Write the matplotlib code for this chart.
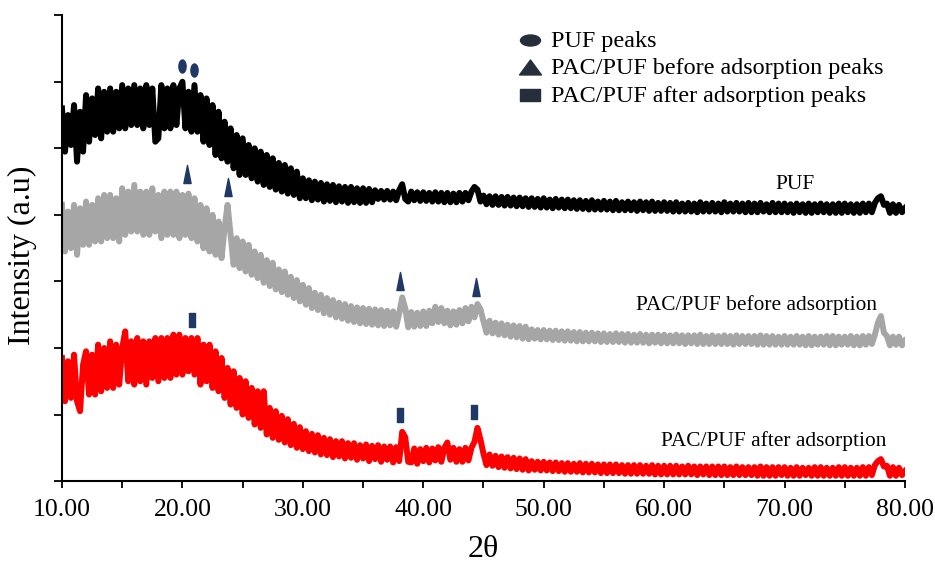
import numpy as np
import matplotlib
matplotlib.use('Agg')
import matplotlib.pyplot as plt
from matplotlib.path import Path
from matplotlib.transforms import Affine2D
from matplotlib.ticker import MultipleLocator, FormatStrFormatter

##  XRD patterns, every 0.25 deg (2theta from 10 to 80)
two_theta = np.arange(10, 80.125, 0.25)

puf = [
    5600, 4950, 5500, 5050,  5650, 4800, 5550, 4950,  5800, 5100, 5750, 5200,
    5900, 5150, 5850, 5250,  5900, 5250, 5850, 5300,  5950, 5300, 5900, 5350,
    5950, 5350, 5900, 5300,  5950, 5350, 5900, 5100,  5150, 5950, 5300, 5900,
    5300, 5950, 5350, 5900,  6000, 5300, 5850, 5250,  5950, 5250, 5800, 5100,
    5750, 5050, 5650, 4900,  5550, 4850, 5400, 4800,  5300, 4700, 5200, 4600,
    5150, 4600, 5050, 4550,  5000, 4500, 4950, 4450,  4900, 4420, 4850, 4380,
    4780, 4350, 4750, 4320,  4700, 4300, 4650, 4250,  4550, 4250, 4520, 4220,
    4500, 4230, 4480, 4200,  4460, 4210, 4450, 4190,  4430, 4200, 4420, 4180,
    4420, 4190, 4400, 4180,  4400, 4180, 4390, 4190,  4370, 4240, 4360, 4230,
    4360, 4230, 4350, 4220,  4370, 4460, 4240, 4200,  4350, 4220, 4340, 4210,
    4340, 4210, 4330, 4200,  4340, 4200, 4330, 4190,  4330, 4190, 4320, 4190,
    4330, 4200, 4330, 4220,  4350, 4420, 4380, 4200,  4290, 4160, 4280, 4150,
    4280, 4150, 4270, 4140,  4270, 4140, 4260, 4130,  4260, 4130, 4250, 4120,
    4250, 4120, 4240, 4110,  4250, 4110, 4230, 4100,  4240, 4110, 4230, 4100,
    4230, 4100, 4220, 4090,  4220, 4090, 4210, 4080,  4220, 4080, 4200, 4080,
    4210, 4080, 4200, 4070,  4210, 4070, 4190, 4070,  4200, 4070, 4190, 4060,
    4200, 4070, 4190, 4060,  4200, 4060, 4180, 4060,  4190, 4060, 4180, 4050,
    4190, 4050, 4170, 4050,  4180, 4050, 4170, 4040,  4190, 4050, 4170, 4050,
    4180, 4050, 4170, 4040,  4190, 4050, 4170, 4050,  4180, 4050, 4170, 4040,
    4180, 4040, 4170, 4040,  4180, 4050, 4160, 4040,  4180, 4040, 4170, 4040,
    4170, 4040, 4160, 4030,  4170, 4040, 4160, 4030,  4170, 4030, 4160, 4040,
    4170, 4040, 4160, 4030,  4160, 4030, 4170, 4030,  4170, 4040, 4160, 4030,
    4160, 4030, 4170, 4040,  4170, 4040, 4180, 4250,  4280, 4150, 4170, 4030,
    4160, 4030, 4150, 4040,  4100]

pac_before = [
    4150, 3450, 4050, 3500,  4150, 3400, 4100, 3550,  4200, 3550, 4150, 3600,
    4250, 3600, 4300, 3650,  4300, 3650, 4250, 3600,  4400, 3700, 4350, 3750,
    4450, 3750, 4350, 3700,  4350, 3700, 4400, 3750,  4300, 3650, 4350, 3700,
    4350, 3700, 4350, 3650,  4300, 3700, 4320, 3650,  4250, 3600, 4150, 3500,
    4100, 3450, 4000, 3400,  3900, 3350, 3800, 4150,  3700, 3250, 3650, 3200,
    3600, 3150, 3550, 3100,  3450, 3050, 3400, 2980,  3320, 2930, 3280, 2880,
    3180, 2840, 3150, 2800,  3070, 2750, 3020, 2700,  2950, 2650, 2900, 2600,
    2830, 2570, 2800, 2520,  2750, 2500, 2720, 2460,  2680, 2440, 2660, 2410,
    2630, 2390, 2610, 2370,  2600, 2360, 2590, 2350,  2580, 2340, 2570, 2330,
    2560, 2340, 2550, 2320,  2520, 2760, 2600, 2310,  2540, 2320, 2530, 2330,
    2550, 2330, 2560, 2370,  2620, 2390, 2600, 2370,  2560, 2340, 2550, 2350,
    2570, 2370, 2600, 2400,  2620, 2460, 2660, 2580,  2400, 2230, 2410, 2220,
    2380, 2200, 2370, 2190,  2350, 2170, 2340, 2160,  2330, 2140, 2320, 2130,
    2280, 2140, 2270, 2130,  2270, 2130, 2260, 2120,  2260, 2120, 2250, 2110,
    2250, 2110, 2240, 2100,  2240, 2100, 2230, 2100,  2230, 2100, 2220, 2090,
    2220, 2090, 2210, 2090,  2220, 2090, 2210, 2080,  2210, 2080, 2200, 2080,
    2210, 2080, 2200, 2070,  2200, 2080, 2200, 2070,  2200, 2070, 2190, 2070,
    2200, 2070, 2190, 2060,  2190, 2070, 2190, 2060,  2200, 2060, 2180, 2060,
    2190, 2060, 2180, 2060,  2190, 2060, 2180, 2050,  2190, 2060, 2180, 2060,
    2180, 2060, 2180, 2050,  2190, 2050, 2180, 2050,  2180, 2050, 2170, 2050,
    2180, 2050, 2170, 2050,  2180, 2050, 2170, 2040,  2180, 2040, 2170, 2050,
    2170, 2050, 2180, 2040,  2180, 2040, 2170, 2050,  2170, 2050, 2180, 2040,
    2170, 2040, 2180, 2050,  2180, 2060, 2200, 2380,  2480, 2230, 2180, 2040,
    2170, 2050, 2170, 2040,  2110]

pac_after = [
    1850, 1200, 1800, 1250,  1900, 1200, 1050, 1750,  1950, 1300, 1900, 1300,
    2050, 1350, 2000, 1400,  2100, 1400, 2050, 1450,  2000, 2250, 1500, 2100,
    1450, 2150, 1500, 2100,  1450, 2100, 1550, 2150,  1500, 2150, 1550, 2150,
    1550, 2200, 1600, 2200,  1600, 2150, 1650, 2150,  1600, 2150, 1450, 2050,
    1500, 2050, 1400, 1950,  1350, 1850, 1250, 1700,  1150, 1650, 1100, 1550,
    1000, 1500, 950, 1400,   850, 1350, 800, 1350,    700, 1100, 650, 1050,
    620, 980, 580, 930,      540, 860, 500, 810,      480, 750, 450, 710,
    430, 690, 400, 650,      390, 630, 360, 600,      370, 600, 340, 570,
    350, 570, 320, 540,      340, 550, 300, 530,      330, 540, 290, 520,
    320, 520, 280, 510,      300, 740, 660, 290,      280, 490, 260, 480,
    300, 500, 280, 490,      310, 510, 290, 500,      580, 320, 500, 290,
    480, 290, 500, 310,      500, 590, 800, 620,      410, 240, 400, 230,
    380, 210, 370, 200,      360, 190, 350, 180,      340, 170, 330, 160,
    300, 170, 290, 160,      290, 160, 280, 150,      280, 150, 270, 140,
    270, 140, 260, 140,      270, 130, 260, 130,      260, 130, 250, 120,
    250, 120, 250, 120,      250, 120, 240, 110,      240, 110, 240, 110,
    240, 110, 230, 110,      240, 100, 230, 100,      230, 100, 230, 100,
    230, 100, 220, 100,      230, 100, 220, 90,       220, 100, 220, 90,
    220, 90, 220, 90,        220, 90, 210, 90,        220, 90, 210, 90,
    210, 90, 210, 80,        220, 80, 210, 80,        210, 80, 210, 90,
    210, 80, 200, 80,        210, 80, 200, 90,        200, 80, 210, 80,
    210, 80, 200, 80,        200, 80, 210, 80,        210, 80, 200, 80,
    200, 80, 210, 80,        210, 90, 240, 300,       330, 220, 230, 80,
    210, 80, 200, 90,        150]

##  peak markers (2theta, height)
puf_peaks_x = [19.96, 20.96]
puf_peaks_y = [6240, 6180]
before_peaks_x = [20.4, 23.8, 38.07, 44.4]
before_peaks_y = [4620, 4425, 3000, 2910]
after_peaks_x = [20.8, 38.1, 44.2]
after_peaks_y = [2415, 990, 1035]

legend_labels = ['PUF peaks', 'PAC/PUF before adsorption peaks',
                 'PAC/PUF after adsorption peaks']

plt.rcParams['font.family'] = 'Liberation Serif'

##  marker shapes
def shape(path, sx, sy):
    return path.transformed(Affine2D().scale(sx, sy))

circle = Path.unit_circle()
tri = Path([(-1, -1), (1, -1), (0, 1), (-1, -1)], closed=True)
rect = Path.unit_rectangle().transformed(Affine2D().translate(-0.5, -0.5))

navy = '#1f3864'
dark = '#262d3b'

fig = plt.figure(figsize=(9.35, 5.64), dpi=100)
ax = fig.add_axes([0.0663, 0.147, 0.9016, 0.826])

lw = 4.3
ax.plot(two_theta, puf, color='black', lw=lw, solid_joinstyle='round')
ax.plot(two_theta, pac_before, color='#a6a6a6', lw=lw, solid_joinstyle='round')
ax.plot(two_theta, pac_after, color='#ff0000', lw=lw, solid_joinstyle='round')

ax.plot(puf_peaks_x, puf_peaks_y, ls='none', marker=shape(circle, 0.55, 1),
        ms=9.4, color=navy)
ax.plot(before_peaks_x, before_peaks_y, ls='none', marker=shape(tri, 0.4, 1),
        ms=13, color=navy)
ax.plot(after_peaks_x, after_peaks_y, ls='none', marker=shape(rect, 0.45, 1),
        ms=9.4, color=navy)

##  legend drawn by hand
leg_markers = [(shape(circle, 1, 0.55), 14.4), (shape(tri, 1, 0.68), 15.8),
               (shape(rect, 1, 0.68), 13.7)]
leg_y = [0.931, 0.873, 0.813]
for (m, s), y, lab in zip(leg_markers, leg_y, legend_labels):
    ax.plot([0.555], [y + 0.016], transform=ax.transAxes, marker=m, ms=s,
            color=dark, ls='none', clip_on=False)
    ax.text(0.580, y, lab, transform=ax.transAxes, fontsize=17.4, va='baseline')

ax.text(70.91, 4395, 'PUF', fontsize=15.4, ha='center', va='baseline')
ax.text(67.63, 2565, 'PAC/PUF before adsorption', fontsize=15.4, ha='center', va='baseline')
ax.text(69.08, 525, 'PAC/PUF after adsorption', fontsize=15.4, ha='center', va='baseline')

ax.set_xlim(10, 80)
ax.set_ylim(0, 7000)
ax.xaxis.set_major_locator(MultipleLocator(10))
ax.xaxis.set_minor_locator(MultipleLocator(5))
ax.xaxis.set_major_formatter(FormatStrFormatter('%.2f'))
ax.yaxis.set_major_locator(MultipleLocator(1000))
ax.set_yticklabels([])
ax.tick_params(axis='x', which='both', direction='out', length=5, width=1.3,
               labelsize=18.5, pad=8)
ax.tick_params(axis='y', direction='out', length=5.5, width=1.3)

for s in ['top', 'right']:
    ax.spines[s].set_visible(False)
for s in ['left', 'bottom']:
    ax.spines[s].set_linewidth(1.5)

ax.set_xlabel('2θ', fontsize=23)
ax.set_ylabel('Intensity (a.u)', fontsize=23)
ax.xaxis.set_label_coords(0.5, -0.115)
ax.yaxis.set_label_coords(-0.030, 0.484)

fig.savefig('out.png', dpi=100)
